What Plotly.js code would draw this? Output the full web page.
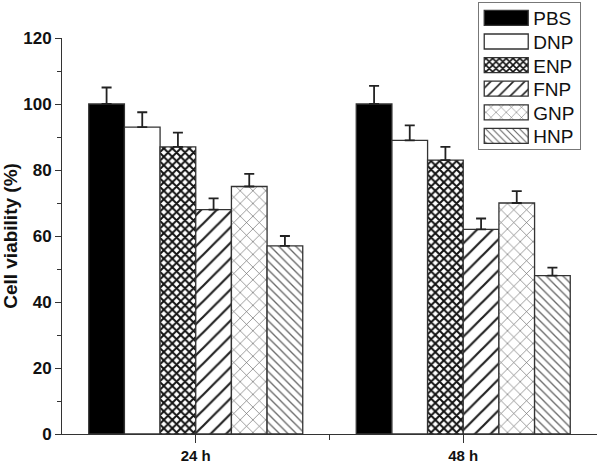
<!DOCTYPE html>
<html>
<head>
<meta charset="utf-8">
<script src="https://cdn.plot.ly/plotly-3.0.1.min.js"></script>
<style>
  html, body { margin: 0; padding: 0; background: #fff; }
  #chart { width: 600px; height: 464px; }
</style>
</head>
<body>
<div id="chart"></div>
<script>
var categories = ["24 h", "48 h"];
var groups = ["PBS", "DNP", "ENP", "FNP", "GNP", "HNP"];

var pbs = [100, 100];
var dnp = [93, 89];
var enp = [87, 83];
var fnp = [68, 62];
var gnp = [75, 70];
var hnp = [57, 48];

var pbsErr = [5, 5.5];
var dnpErr = [4.5, 4.5];
var enpErr = [4.3, 4];
var fnpErr = [3.4, 3.3];
var gnpErr = [3.8, 3.6];
var hnpErr = [3, 2.4];

var xpos = categories.map(function (c, i) { return i; });

var axisFont = "Liberation Sans, Arial, sans-serif";

var styles = [
  { color: "#000000", pattern: { shape: "" } },
  { color: "#ffffff", pattern: { shape: "" } },
  { color: "#ffffff", pattern: { shape: "x", fgcolor: "#111", bgcolor: "#fff", size: 6, solidity: 0.55, fillmode: "replace" } },
  { color: "#ffffff", pattern: { shape: "/", fgcolor: "#222", bgcolor: "#fff", size: 11, solidity: 0.2, fillmode: "replace" } },
  { color: "#ffffff", pattern: { shape: "x", fgcolor: "#666", bgcolor: "#fff", size: 9, solidity: 0.14, fillmode: "replace" } },
  { color: "#ffffff", pattern: { shape: "\\", fgcolor: "#666", bgcolor: "#fff", size: 6, solidity: 0.22, fillmode: "replace" } }
];

var values = [pbs, dnp, enp, fnp, gnp, hnp];
var errors = [pbsErr, dnpErr, enpErr, fnpErr, gnpErr, hnpErr];

var data = groups.map(function (g, k) {
  return {
    type: "bar",
    name: g,
    x: xpos,
    y: values[k],
    marker: {
      color: styles[k].color,
      pattern: styles[k].pattern,
      line: { color: "#333", width: 1.3 }
    },
    error_y: {
      type: "data",
      array: errors[k],
      arrayminus: [0, 0],
      symmetric: false,
      color: "#222",
      thickness: 1.8,
      width: 5
    }
  };
});

var layout = {
  width: 600,
  height: 464,
  margin: { l: 62, r: 3, t: 37, b: 30 },
  paper_bgcolor: "#fff",
  plot_bgcolor: "#fff",
  barmode: "group",
  bargap: 0.2,
  bargroupgap: 0,
  showlegend: true,
  legend: {
    x: 0.778, y: 1.088, xanchor: "left", yanchor: "top",
    bgcolor: "#fff",
    bordercolor: "#777",
    borderwidth: 1,
    itemwidth: 44,
    font: { family: "Liberation Sans, Arial, sans-serif", size: 19, color: "#111" },
    tracegroupgap: 0
  },
  xaxis: {
    range: [-0.5, 1.5],
    tickmode: "array",
    tickvals: xpos,
    ticktext: categories.map(function (c) { return "<b>" + c + "</b>"; }),
    ticks: "outside",
    ticklen: 8,
    tickwidth: 1,
    tickcolor: "#333",
    minor: { tickmode: "array", tickvals: [0.5], ticks: "outside", ticklen: 5, tickcolor: "#333" },
    showline: true,
    linecolor: "#333",
    linewidth: 1,
    showgrid: false,
    zeroline: false,
    tickfont: { family: axisFont, size: 15, color: "#111" }
  },
  yaxis: {
    range: [0, 120],
    dtick: 20,
    ticks: "outside",
    ticklen: 6,
    tickwidth: 1,
    tickcolor: "#333",
    minor: { dtick: 10, ticks: "outside", ticklen: 4, tickcolor: "#333" },
    showline: true,
    linecolor: "#333",
    linewidth: 1,
    showgrid: false,
    zeroline: false,
    tickprefix: "<b>",
    ticksuffix: "</b>",
    tickfont: { family: axisFont, size: 17, color: "#111" },
    title: {
      text: "<b>Cell viability (%)</b>",
      standoff: 4,
      font: { family: axisFont, size: 19, color: "#111" }
    }
  }
};

Plotly.newPlot("chart", data, layout, { staticPlot: true }).then(function (gd) {
  // widen legend swatches and tighten row spacing to look like the original
  var legend = gd.querySelector(".legend");
  if (!legend) return;
  legend.querySelectorAll(".legendpoints path").forEach(function (p) {
    p.setAttribute("d", "M22,7.5H-22V-7.5H22Z");
  });
  var rows = legend.querySelectorAll(".traces");
  var step = 23.6, first = null;
  rows.forEach(function (row, i) {
    var m = /translate\(([-\d.]+)[ ,]+([-\d.]+)\)/.exec(row.getAttribute("transform") || "");
    if (!m) return;
    if (first === null) first = parseFloat(m[2]) - 4;
    row.setAttribute("transform", "translate(" + m[1] + "," + (first + i * step) + ")");
  });
  var bg = legend.querySelector("rect.bg");
  if (bg && first !== null) {
    bg.setAttribute("height", first + (rows.length - 1) * step + 13);
  }
});
</script>
</body>
</html>
